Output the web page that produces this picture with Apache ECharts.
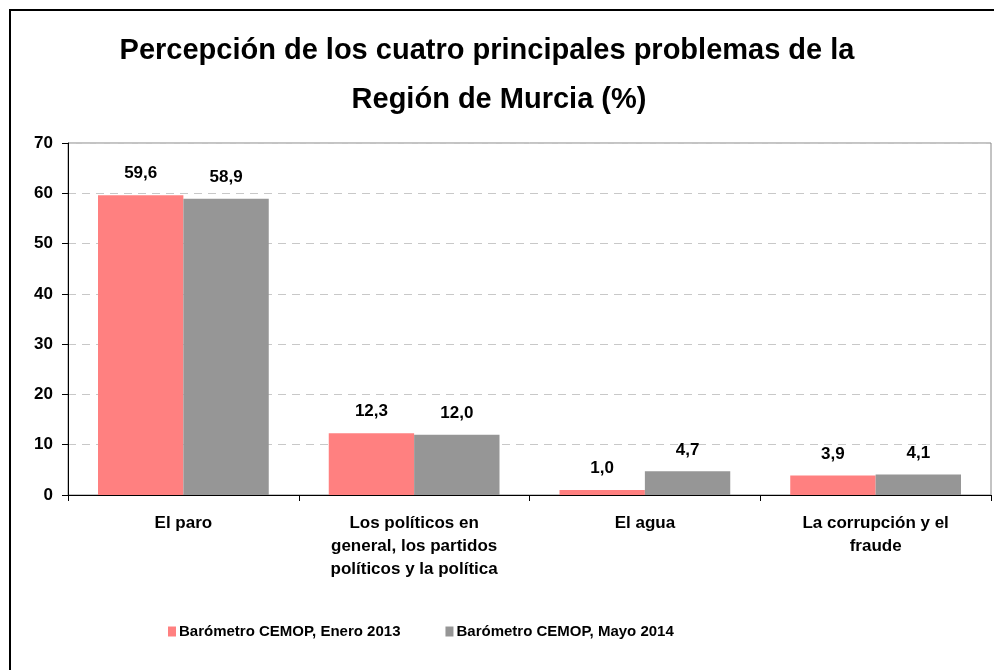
<!DOCTYPE html>
<html>
<head>
<meta charset="utf-8">
<script src="https://cdn.jsdelivr.net/npm/echarts@6/dist/echarts.min.js"></script>
<style>
html,body{margin:0;padding:0;background:#fff;overflow:hidden;}
#frame{position:absolute;left:9px;top:9px;width:1100px;height:800px;border-left:2px solid #000;border-top:2px solid #000;box-sizing:border-box;}
#chart{position:absolute;left:0;top:0;width:994px;height:670px;}
</style>
</head>
<body>
<div id="frame"></div>
<div id="chart"></div>
<script>
var categories = ['El paro', 'Los políticos en\ngeneral, los partidos\npolíticos y la política', 'El agua', 'La corrupción y el\nfraude'];
var seriesNames = ['Barómetro CEMOP, Enero 2013', 'Barómetro CEMOP, Mayo 2014'];
var enero2013 = [59.6, 12.3, 1.0, 3.9];
var mayo2014 = [58.9, 12.0, 4.7, 4.1];
var yTicks = [0, 10, 20, 30, 40, 50, 60, 70];
var titleLines = ['Percepción de los cuatro principales problemas de la', 'Región de Murcia (%)'];

var chart = echarts.init(document.getElementById('chart'));
var font = 'Liberation Sans, Arial, sans-serif';
var labelOpt = {
  show: true, position: 'top', distance: 13,
  fontFamily: font, fontWeight: 'bold', fontSize: 17, color: '#000',
  formatter: function (p) { return p.value.toFixed(1).replace('.', ','); }
};
var titleStyle = { fontFamily: font, fontWeight: 'bold', fontSize: 29, lineHeight: 34, color: '#000' };
chart.setOption({
  animation: false,
  title: [
    { text: titleLines[0], left: 482, top: 29, textAlign: 'center', textStyle: titleStyle },
    { text: titleLines[1], left: 494, top: 78, textAlign: 'center', textStyle: titleStyle }
  ],
  legend: {
    data: seriesNames, left: 163, top: 619,
    itemWidth: 8, itemHeight: 10, itemGap: 45,
    icon: 'rect',
    textStyle: { fontFamily: font, fontWeight: 'bold', fontSize: 15, color: '#000', padding: [0, 0, 0, -2] }
  },
  grid: { left: 68, top: 143, right: 3, bottom: 175, show: true, borderColor: '#888', borderWidth: 1, containLabel: false },
  xAxis: {
    type: 'category', data: categories,
    axisLine: { lineStyle: { color: '#000', width: 1 } },
    axisTick: { show: true, alignWithLabel: false, length: 6, lineStyle: { color: '#000' } },
    axisLabel: { fontFamily: font, fontWeight: 'bold', fontSize: 17, color: '#000', lineHeight: 23, margin: 17, interval: 0 }
  },
  yAxis: {
    type: 'value', min: yTicks[0], max: yTicks[yTicks.length - 1], interval: 10,
    axisLine: { show: true, lineStyle: { color: '#000', width: 1 } },
    axisTick: { show: true, length: 6, lineStyle: { color: '#000' } },
    axisLabel: { fontFamily: font, fontWeight: 'bold', fontSize: 17, color: '#000', margin: 15 },
    splitLine: { show: true, lineStyle: { color: '#c8c8c8', type: [8, 6], width: 1 } }
  },
  series: [
    { name: seriesNames[0], type: 'bar', data: enero2013, barGap: '0%', barCategoryGap: '26%',
      itemStyle: { color: '#FF8080' }, label: labelOpt },
    { name: seriesNames[1], type: 'bar', data: mayo2014,
      itemStyle: { color: '#969696' }, label: labelOpt }
  ]
});
</script>
</body>
</html>
